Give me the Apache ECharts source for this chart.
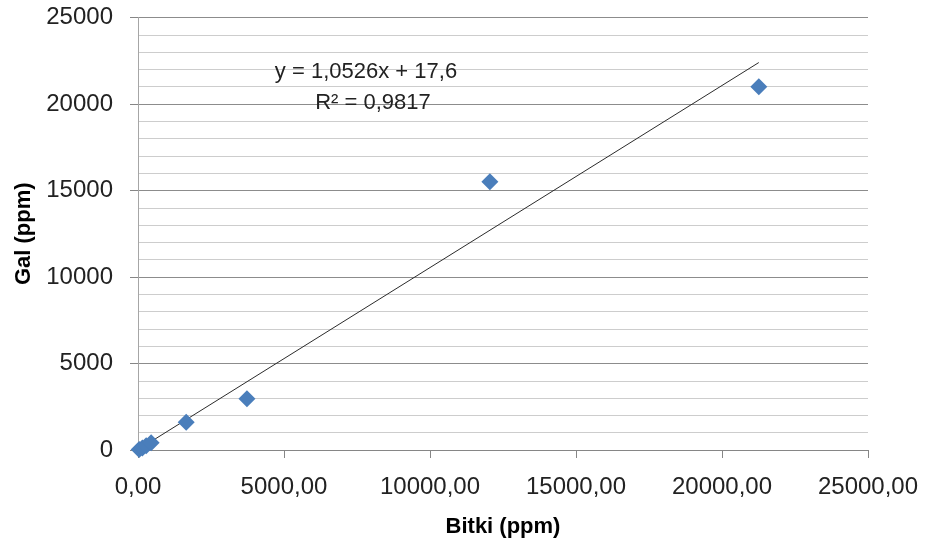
<!DOCTYPE html>
<html>
<head>
<meta charset="utf-8">
<script src="https://cdn.jsdelivr.net/npm/echarts@6/dist/echarts.min.js"></script>
<style>
  html, body { margin: 0; padding: 0; background: #fff; }
  #chart { width: 925px; height: 544px; }
</style>
</head>
<body>
<div id="chart"></div>
<script>
// Plant (Bitki) vs. gall (Gal) concentrations, ppm
const bitki = [40, 150, 280, 450, 1650, 3730, 12050, 21260];
const gal   = [30, 110, 250, 420, 1600, 2960, 15500, 21000];

// Linear fit reported on the chart
const slope = 1.0526;
const intercept = 17.6;
const equationText = 'y = 1,0526x + 17,6';
const r2Text = 'R² = 0,9817';

const xTicks = { min: 0, max: 25000, interval: 5000 };
const yTicks = { min: 0, max: 25000, interval: 5000 };

const points = bitki.map((x, i) => [x, gal[i]]);
const xMin = Math.min(...bitki);
const xMax = Math.max(...bitki);
const fitLine = [
  [xMin, slope * xMin + intercept],
  [xMax, slope * xMax + intercept]
];

const FONT = '"Liberation Sans", Arial, sans-serif';
const chart = echarts.init(document.getElementById('chart'), null, { renderer: 'canvas' });

chart.setOption({
  animation: false,
  backgroundColor: '#ffffff',
  grid: {
    left: 138, right: 57, top: 17.5, bottom: 94,
    containLabel: false,
    outerBoundsMode: 'none'
  },
  xAxis: {
    type: 'value',
    min: xTicks.min, max: xTicks.max, interval: xTicks.interval,
    name: 'Bitki (ppm)',
    nameLocation: 'middle',
    nameGap: 66,
    nameTextStyle: { fontFamily: FONT, fontWeight: 'bold', fontSize: 22, color: '#000' },
    axisLine: { show: true, lineStyle: { color: '#868686', width: 1 } },
    axisTick: { show: true, length: 8, lineStyle: { color: '#868686' } },
    axisLabel: {
      margin: 25, fontFamily: FONT, fontSize: 24, color: '#222',
      formatter: v => v.toFixed(2).replace('.', ',')
    },
    splitLine: { show: false }
  },
  yAxis: {
    type: 'value',
    min: yTicks.min, max: yTicks.max, interval: yTicks.interval,
    name: 'Gal (ppm)',
    nameLocation: 'middle',
    nameGap: 96,
    nameRotate: 90,
    nameTextStyle: { fontFamily: FONT, fontWeight: 'bold', fontSize: 22, color: '#000' },
    axisLine: { show: true, lineStyle: { color: '#a6a6a6', width: 1 } },
    axisTick: { show: true, length: 8, lineStyle: { color: '#868686' } },
    axisLabel: {
      margin: 25, fontFamily: FONT, fontSize: 24, color: '#222',
      formatter: v => String(v)
    },
    splitLine: { show: true, lineStyle: { color: '#8c8c8c', width: 1 } },
    minorTick: { show: false, splitNumber: 5 },
    minorSplitLine: { show: true, lineStyle: { color: '#cdcdcd', width: 1 } }
  },
  series: [
    {
      type: 'line',
      data: fitLine,
      symbol: 'none',
      lineStyle: { color: '#2b2b2b', width: 1 },
      z: 3
    },
    {
      type: 'scatter',
      data: points,
      symbol: 'diamond',
      symbolSize: 17,
      itemStyle: { color: '#4a7ebb', opacity: 1 },
      z: 4
    }
  ],
  graphic: [
    {
      type: 'text',
      x: 366, y: 72,
      style: {
        text: equationText, fontFamily: FONT, fontSize: 22, fill: '#222',
        align: 'center', verticalAlign: 'middle'
      },
      z: 10
    },
    {
      type: 'text',
      x: 373, y: 103,
      style: {
        text: r2Text, fontFamily: FONT, fontSize: 22, fill: '#222',
        align: 'center', verticalAlign: 'middle'
      },
      z: 10
    }
  ]
});
</script>
</body>
</html>
